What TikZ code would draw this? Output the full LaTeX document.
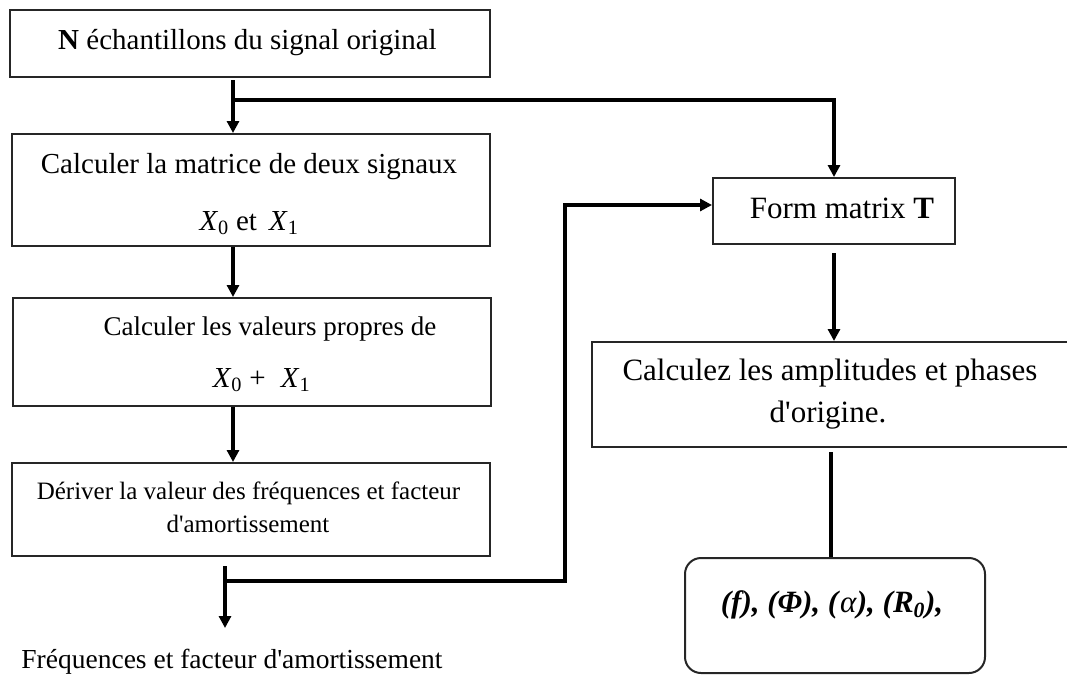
\documentclass[tikz,border=0pt]{standalone}
\usepackage{fontspec}
\setmainfont{Liberation Serif}
% a copy of the serif family without TeX ligatures, so that ' stays straight
\newfontfamily\plainserif{Liberation Serif}
\usetikzlibrary{arrows.meta}
\newcommand{\xsub}[1]{\textit{X}\textsubscript{#1}}
\begin{document}
\begin{tikzpicture}[x=1pt,y=-1pt,
  box/.style={draw=black!85, line width=2pt, inner sep=0pt},
  lbl/.style={anchor=base, inner sep=0pt},
  flow/.style={line width=3.4pt, black},
  arr/.style={flow, -{Triangle[length=12pt,width=12pt]}},
  fs/.style={font=\plainserif\fontsize{#1}{#1}\selectfont}]
\useasboundingbox (0,0) rectangle (1067,675);

% left column boxes
\node[box, minimum width=480pt, minimum height=67pt]  (b1) at (250,43.5) {};
\node[box, minimum width=478pt, minimum height=112pt] (b2) at (251,190) {};
\node[box, minimum width=478pt, minimum height=108pt] (b3) at (252,352) {};
\node[box, minimum width=478pt, minimum height=93pt]  (b4) at (251,509.5) {};

% right column boxes
\node[box, minimum width=242pt, minimum height=66pt]  (T)  at (834,211) {};
\node[box, minimum width=476pt, minimum height=105pt] (b5) at (830,394.5) {};
\node[box, rounded corners=16pt, minimum width=300pt, minimum height=115pt] (r) at (835,615.5) {};

% texts
\node[lbl, fs=29] (t1) at (247.5,49) {\textbf{N} échantillons du signal original};
\node[lbl, fs=29] (t2a) at (249,173) {Calculer la matrice de deux signaux};
\node[lbl, fs=29] (t2b) at (249,230) {\xsub{0} et\, \xsub{1}};
\node[lbl, fs=27] (t3a) at (270,335) {Calculer les valeurs propres de};
\node[lbl, fs=29] (t3b) at (261.5,387) {\xsub{0} + \;\xsub{1}};
\node[lbl, fs=25] (t4a) at (248.5,499) {Dériver la valeur des fréquences et facteur};
\node[lbl, fs=25] (t4b) at (248,532) {d'amortissement};
\node[lbl, fs=27.5] (tout) at (232,668) {Fréquences et facteur d'amortissement};
\node[lbl, fs=31] (tT) at (842,218) {Form matrix \textbf{T}};
\node[lbl, fs=31] (t5a) at (830,380) {Calculez les amplitudes et phases};
\node[lbl, fs=31] (t5b) at (828,422) {d'origine.};
\node[lbl, fs=31] (tr) at (832,612) {\textbf{\textit{(f), (Φ), (}}\textit{α}\textbf{\textit{), (R\textsubscript{0}),}}};

% connectors
\coordinate (j1) at (233,100);
\coordinate (j2) at (225,581);
\coordinate (k2) at (565,205);
\coordinate (fend) at (225,628);

\draw[arr, shorten <=2pt] (j1 |- b1.south) -- (j1 |- b2.north);
\draw[arr] (j1) -| (T.north);
\draw[arr] (j1 |- b2.south) -- (j1 |- b3.north);
\draw[arr] (j1 |- b3.south) -- (j1 |- b4.north);
\draw[arr, shorten <=9pt] (j2 |- b4.south) -- (fend);
\draw[arr] (j2) -| (k2) -- (k2 -| T.west);
\draw[arr, shorten <=8pt] (T.south) -- (T.south |- b5.north);
\draw[flow, shorten <=5pt] (831,447) coordinate (b5out) -- (b5out |- r.north);
\end{tikzpicture}
\end{document}
